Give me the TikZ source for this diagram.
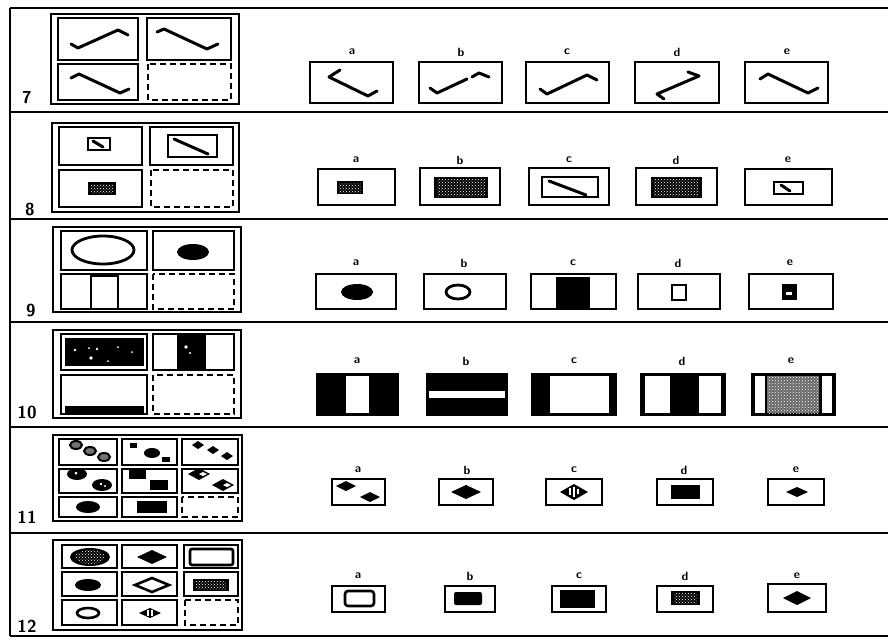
\documentclass[tikz,border=0pt]{standalone}
\usepackage{tikz}
\usetikzlibrary{patterns}

\tikzset{
  frame/.style={draw, line width=2.8pt},
  cell/.style={draw, line width=2.3pt},
  blank/.style={draw, line width=2.1pt, dash pattern=on 6pt off 4pt},
  opt/.style={draw, line width=2.6pt},
  rule/.style={draw, line width=2pt},
  stroke/.style={line width=3pt, line cap=round, line join=round},
  speckle/.style={pattern=crosshatch dots, pattern color=white},
  lab/.style={font=\sffamily\bfseries\large, inner sep=0pt},
  num/.style={font=\sffamily\bfseries\LARGE, inner sep=0pt}
}

\begin{document}
\begin{tikzpicture}[x=1pt, y=-1pt]
\useasboundingbox (0,0) rectangle (888,640);

% sheet rules
\draw[rule] (10,8) -- (888,8);
\draw[rule] (10,8) -- (10,636);
\draw[rule] (10,112) -- (888,112);
\draw[rule] (10,219) -- (888,219);
\draw[rule] (10,322) -- (888,322);
\draw[rule] (10,427) -- (888,427);
\draw[rule] (10,533) -- (888,533);
\draw[rule] (10,636) -- (888,636);

% item 7
\draw[frame] (51,14) rectangle (239,104);
\draw[cell] (58,18) rectangle (138,60);
\draw[cell] (147,18) rectangle (231,60);
\draw[cell] (58,64) rectangle (138,100);
\draw[blank] (148,64) rectangle (231,100);
\draw[stroke] (71,44) -- (78,48) -- (118,30) -- (128,35);
\draw[stroke] (157,32) -- (164,29) -- (207,49) -- (218,44);
\draw[stroke] (71,78) -- (79,74) -- (120,93) -- (129,89);
\node[num] (num7) at (27,98) {7};

\node[lab] (lab7a) at (352,52) {a};
\node[lab] (lab7b) at (461,52) {b};
\node[lab] (lab7c) at (567,52) {c};
\node[lab] (lab7d) at (677,52) {d};
\node[lab] (lab7e) at (787,52) {e};
\draw[opt] (310,62) rectangle (393,103);
\draw[opt] (419,62) rectangle (502,103);
\draw[opt] (526,62) rectangle (609,103);
\draw[opt] (635,62) rectangle (719,103);
\draw[opt] (745,62) rectangle (828,103);
\draw[stroke] (340,70) -- (329,77) -- (368,96) -- (377,91);
\draw[stroke] (430,88) -- (437,93) -- (467,79);
\draw[stroke] (472,77) -- (479,73) -- (489,77);
\draw[stroke] (540,89) -- (547,94) -- (587,75) -- (597,80);
\draw[stroke] (688,72) -- (699,76) -- (657,94) -- (664,99);
\draw[stroke] (760,79) -- (768,74) -- (808,93) -- (818,88);

% item 8
\draw[frame] (52,123) rectangle (239,212);
\draw[cell] (59,127) rectangle (142,165);
\draw[cell] (150,127) rectangle (233,165);
\draw[cell] (59,170) rectangle (142,207);
\draw[blank] (151,170) rectangle (233,207);
\draw[line width=2.4pt] (88,138) rectangle (110,150);
\draw[stroke] (93,141) -- (103,147);
\draw[line width=2.4pt] (168,135) rectangle (217,157);
\draw[stroke] (174,139) -- (208,154);
\fill (88,182) rectangle (116,195);
\fill[speckle] (91,184) rectangle (113,193);
\node[num] (num8) at (30,209) {8};

\node[lab] (lab8a) at (356,160) {a};
\node[lab] (lab8b) at (460,160) {b};
\node[lab] (lab8c) at (569,160) {c};
\node[lab] (lab8d) at (676,160) {d};
\node[lab] (lab8e) at (788,160) {e};
\draw[opt] (318,169) rectangle (395,205);
\draw[opt] (420,168) rectangle (500,205);
\draw[opt] (529,168) rectangle (609,205);
\draw[opt] (636,168) rectangle (717,205);
\draw[opt] (745,169) rectangle (832,205);
\fill (337,181) rectangle (363,194);
\fill[speckle] (339,183) rectangle (361,192);
\fill (434,177) rectangle (488,198);
\fill[speckle] (437,179) rectangle (485,196);
\draw[line width=2.4pt] (542,177) rectangle (598,197);
\draw[stroke] (549,181) -- (586,195);
\fill (651,177) rectangle (702,198);
\fill[speckle] (654,179) rectangle (699,196);
\draw[line width=2.6pt] (774,182) rectangle (803,194);
\draw[stroke] (781,185) -- (790,191);

% item 9
\draw[frame] (53,227) rectangle (241,312);
\draw[cell] (61,231) rectangle (147,270);
\draw[cell] (153,231) rectangle (234,270);
\draw[cell] (61,274) rectangle (147,309);
\draw[blank] (153,274) rectangle (234,309);
\draw[line width=2.8pt] (103,250) ellipse [x radius=31pt, y radius=14pt];
\fill (193,252) ellipse [x radius=16pt, y radius=8pt];
\draw[line width=2.8pt] (91,276) rectangle (118,309);
\node[num] (num9) at (31,310) {9};

\node[lab] (lab9a) at (356,263) {a};
\node[lab] (lab9b) at (464,263) {b};
\node[lab] (lab9c) at (573,263) {c};
\node[lab] (lab9d) at (678,263) {d};
\node[lab] (lab9e) at (790,263) {e};
\draw[opt] (316,274) rectangle (396,309);
\draw[opt] (424,274) rectangle (506,309);
\draw[opt] (531,274) rectangle (616,309);
\draw[opt] (638,274) rectangle (720,309);
\draw[opt] (749,274) rectangle (833,309);
\fill (357,292) ellipse [x radius=16pt, y radius=8pt];
\draw[line width=2.8pt] (458,292) ellipse [x radius=12pt, y radius=7pt];
\fill (556,277) rectangle (590,308);
\draw[line width=2.8pt] (672,285) rectangle (686,300);
\fill (782,284) rectangle (797,300);
\fill[white] (786,292) rectangle (792,295);

% item 10
\draw[frame] (53,330) rectangle (241,418);
\draw[cell] (61,334) rectangle (147,370);
\draw[cell] (153,334) rectangle (234,370);
\draw[cell] (61,375) rectangle (147,414);
\draw[blank] (153,375) rectangle (234,414);
\fill (65,338) rectangle (144,366);
\fill[white] (75,350) circle (1.4pt) (89,348) circle (1pt) (97,349) circle (1.4pt)
  (118,347) circle (1pt) (91,358) circle (1.8pt) (108,361) circle (1pt) (132,352) circle (1pt);
\fill (177,334) rectangle (206,370);
\fill[white] (186,347) circle (1.8pt) (190,353) circle (1.2pt);
\fill (65,406) rectangle (144,414);
\node[num] (num10) at (27,412) {10};

\node[lab] (lab10a) at (357,361) {a};
\node[lab] (lab10b) at (466,361) {b};
\node[lab] (lab10c) at (574,361) {c};
\node[lab] (lab10d) at (682,361) {d};
\node[lab] (lab10e) at (791,361) {e};
\fill (316,373) rectangle (399,416);
\fill[white] (346,376) rectangle (369,413);
\fill (426,373) rectangle (508,416);
\fill[white] (429,391) rectangle (505,398);
\fill (531,373) rectangle (617,416);
\fill[white] (550,376) rectangle (609,413);
\fill (640,373) rectangle (726,416);
\fill[white] (645,376) rectangle (670,413);
\fill[white] (699,376) rectangle (721,413);
\fill (751,373) rectangle (836,416);
\fill[white] (755,376) rectangle (765,413);
\fill[white] (822,376) rectangle (832,413);
\fill[black!60] (767,376) rectangle (819,413);
\fill[speckle] (767,376) rectangle (819,413);

% item 11
\draw[frame] (53,435) rectangle (242,521);
\draw[cell] (59,439) rectangle (117,465);
\draw[cell] (122,439) rectangle (177,465);
\draw[cell] (182,439) rectangle (238,465);
\draw[cell] (59,469) rectangle (117,493);
\draw[cell] (122,469) rectangle (177,493);
\draw[cell] (182,469) rectangle (238,493);
\draw[cell] (59,497) rectangle (117,517);
\draw[cell] (122,497) rectangle (177,517);
\draw[blank] (182,497) rectangle (238,517);
\filldraw[fill=black!55, line width=2pt] (76,445) ellipse [x radius=6pt, y radius=4pt]
  (90,451) ellipse [x radius=6pt, y radius=4pt] (104,457) ellipse [x radius=6pt, y radius=4pt];
\fill (130,443) rectangle (137,448);
\fill (152,453) ellipse [x radius=8pt, y radius=5pt];
\fill (162,457) rectangle (170,462);
\fill (192,445) -- ++(6,-4) -- ++(6,4) -- ++(-6,4) -- cycle;
\fill (207,450) -- ++(6,-4) -- ++(6,4) -- ++(-6,4) -- cycle;
\fill (221,456) -- ++(6,-4) -- ++(6,4) -- ++(-6,4) -- cycle;
\fill (77,474) ellipse [x radius=10pt, y radius=6pt];
\fill (102,485) ellipse [x radius=10pt, y radius=6pt];
\fill[white] (76,473) circle (1.5pt) (101,484) circle (1.4pt) (105,486) circle (1.2pt);
\fill (129,469) rectangle (146,479);
\fill (150,480) rectangle (168,490);
\fill (188,474) -- ++(11,-6) -- ++(11,6) -- ++(-11,6) -- cycle;
\fill (212,485) -- ++(11,-6) -- ++(11,6) -- ++(-11,6) -- cycle;
\fill[white] (199,474) -- ++(4,-2) -- ++(4,2) -- ++(-4,2) -- cycle;
\fill[white] (223,485) -- ++(4,-2) -- ++(4,2) -- ++(-4,2) -- cycle;
\fill (88,507) ellipse [x radius=12pt, y radius=6pt];
\fill (137,501) rectangle (167,513);
\node[num] (num11) at (27,517) {11};

\node[lab] (lab11a) at (358,470) {a};
\node[lab] (lab11b) at (467,470) {b};
\node[lab] (lab11c) at (574,470) {c};
\node[lab] (lab11d) at (684,470) {d};
\node[lab] (lab11e) at (796,470) {e};
\draw[opt] (332,479) rectangle (385,505);
\draw[opt] (439,479) rectangle (493,505);
\draw[opt] (546,479) rectangle (602,505);
\draw[opt] (657,479) rectangle (713,505);
\draw[opt] (768,479) rectangle (824,505);
\fill (336,486) -- ++(10,-5) -- ++(10,5) -- ++(-10,5) -- cycle;
\fill (360,497) -- ++(10,-5) -- ++(10,5) -- ++(-10,5) -- cycle;
\fill (451,492) -- ++(15,-7) -- ++(15,7) -- ++(-15,7) -- cycle;
\fill (560,492) -- ++(14,-8) -- ++(14,8) -- ++(-14,8) -- cycle;
\draw[white, line width=1.2pt] (570,488) -- (570,495) (574,487) -- (574,497) (578,489) -- (578,494);
\fill (671,485) rectangle (700,499);
\fill (786,492) -- ++(11,-5) -- ++(11,5) -- ++(-11,5) -- cycle;

% item 12
\draw[frame] (53,540) rectangle (242,630);
\draw[cell] (62,545) rectangle (117,568);
\draw[cell] (122,545) rectangle (177,568);
\draw[cell] (184,545) rectangle (238,568);
\draw[cell] (62,572) rectangle (117,596);
\draw[cell] (122,572) rectangle (177,596);
\draw[cell] (184,572) rectangle (238,596);
\draw[cell] (62,600) rectangle (117,625);
\draw[cell] (122,600) rectangle (177,625);
\draw[blank] (185,600) rectangle (238,625);
\fill (90,557) ellipse [x radius=20pt, y radius=9pt];
\fill[speckle] (90,557) ellipse [x radius=15pt, y radius=7pt];
\fill (137,557) -- ++(15,-7) -- ++(15,7) -- ++(-15,7) -- cycle;
\draw[line width=2.6pt, rounded corners=2pt] (190,549) rectangle (233,565);
\fill (88,585) ellipse [x radius=13pt, y radius=6pt];
\draw[line width=2.6pt] (135,585) -- ++(17,-7) -- ++(17,7) -- ++(-17,7) -- cycle;
\fill (193,579) rectangle (229,591);
\fill[speckle] (196,581) rectangle (226,589);
\draw[line width=2.6pt] (88,613) ellipse [x radius=11pt, y radius=5pt];
\fill (139,613) -- ++(11,-5) -- ++(11,5) -- ++(-11,5) -- cycle;
\draw[white, line width=1.2pt] (148,610) -- (148,616) (152,610) -- (152,616);
\node[num] (num12) at (27,626) {12};

\node[lab] (lab12a) at (358,576) {a};
\node[lab] (lab12b) at (470,576) {b};
\node[lab] (lab12c) at (579,576) {c};
\node[lab] (lab12d) at (685,576) {d};
\node[lab] (lab12e) at (797,576) {e};
\draw[opt] (332,586) rectangle (385,612);
\draw[opt] (445,586) rectangle (495,612);
\draw[opt] (552,586) rectangle (606,612);
\draw[opt] (657,586) rectangle (713,612);
\draw[opt] (768,584) rectangle (826,612);
\draw[line width=2.6pt, rounded corners=3pt] (345,591) rectangle (374,606);
\fill[rounded corners=2pt] (454,592) rectangle (482,605);
\fill (560,590) rectangle (595,608);
\fill (671,591) rectangle (700,605);
\fill[speckle] (674,593) rectangle (697,603);
\fill (783,598) -- ++(14,-7) -- ++(14,7) -- ++(-14,7) -- cycle;

\end{tikzpicture}
\end{document}
